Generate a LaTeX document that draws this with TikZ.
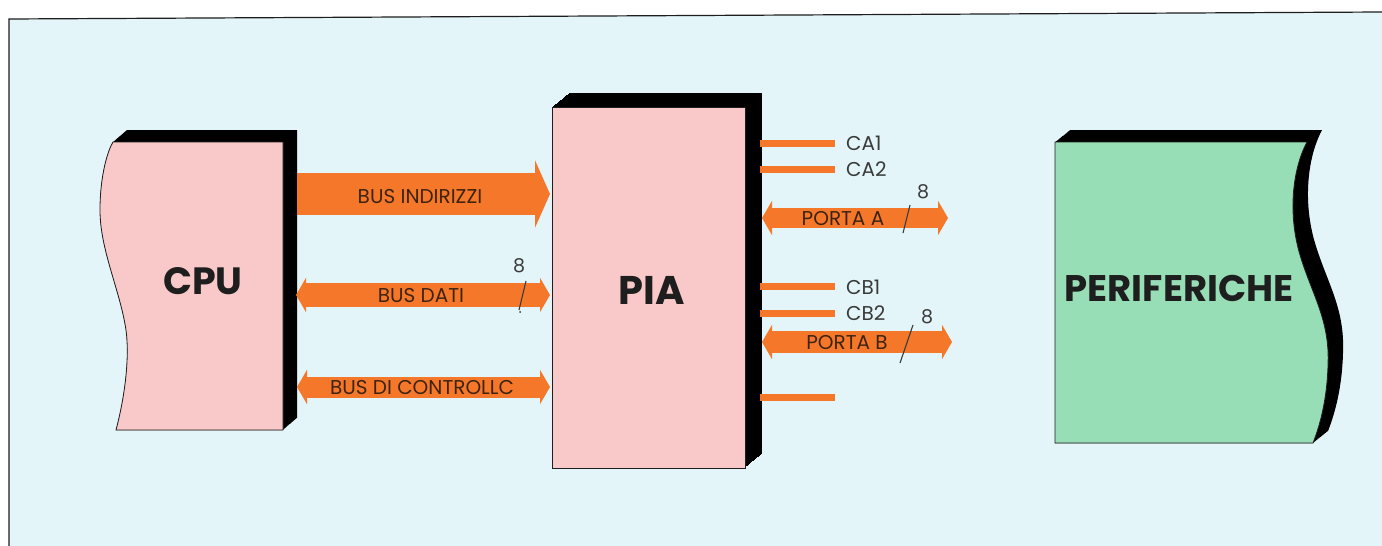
\documentclass[tikz,border=0pt]{standalone}
\usepackage{fontspec}
\setmainfont{Poppins}
\usetikzlibrary{arrows.meta}
\definecolor{bgc}{HTML}{E3F5F8}
\definecolor{pinkc}{HTML}{F9C8C8}
\definecolor{greenc}{HTML}{97DDB6}
\definecolor{orng}{HTML}{F5782A}
\definecolor{brownc}{HTML}{3E2410}
\definecolor{darkc}{HTML}{1E1E1E}
\definecolor{greyc}{HTML}{3A3A3A}
\tikzset{
  boxfill/.style={draw=darkc, line width=0.8pt},
  bigtext/.style={font=\fontsize{38}{38}\selectfont\bfseries, text=darkc, inner sep=0pt},
  buslabel/.style={font=\fontsize{20}{20}\selectfont, text=brownc, inner sep=0pt},
  pinlabel/.style={font=\fontsize{20}{20}\selectfont, text=greyc, inner sep=0pt, anchor=west},
  numlabel/.style={font=\fontsize{19}{19}\selectfont, text=greyc, inner sep=0pt},
  bigbus/.style={draw=orng, line width=42pt, line cap=butt, -{Triangle[length=15pt,width=67pt]}},
  dbus/.style={draw=orng, line width=#1, line cap=butt, {Triangle[length=10pt,width=34pt]}-{Triangle[length=10pt,width=34pt]}},
  pinline/.style={draw=orng, line width=7pt, line cap=butt},
  slash/.style={draw=greyc, line width=1.1pt},
}
\newcommand{\cpushape}{(113,142) -- (283,142) -- (283,430) -- (116,430) .. controls (124,400) and (130,360) .. (126,330) .. controls (120,290) and (100,250) .. (100,210) .. controls (100,175) and (108,150) .. (113,142) -- cycle}
\newcommand{\piashape}{(552,107) rectangle (745,468)}
\newcommand{\pershape}{(1055,142) -- (1307,142) .. controls (1292,170) and (1288,215) .. (1300,255) .. controls (1312,295) and (1330,320) .. (1328,365) .. controls (1327,400) and (1320,425) .. (1313,443) -- (1055,443) -- cycle}
\begin{document}
\begin{tikzpicture}[x=1pt,y=-1pt]
\useasboundingbox (0,0) rectangle (1382,546);
\fill[white] (0,0) rectangle (1382,546);
% background panel
\fill[bgc] (9,19) -- (1382,12) -- (1382,546) -- (9,546) -- cycle;
\draw[darkc, line width=1.2pt] (9,546) -- (9,19) -- (1382,12);

% CPU box with extruded shadow
\foreach \t in {0,0.04,...,1.0}{
  \fill[black, shift={(14*\t,-12*\t)}] \cpushape;
}
\filldraw[fill=pinkc, boxfill] \cpushape;
\node[bigtext] (cpu) at (203,281) {CPU};

% PIA box
\foreach \t in {0,0.04,...,1.0}{
  \fill[black, shift={(17*\t,-14*\t)}] \piashape;
}
\filldraw[fill=pinkc, boxfill] \piashape;
\node[bigtext, font=\fontsize{40}{40}\selectfont\bfseries] (pia) at (652,290) {PIA};

% PERIFERICHE box
\foreach \t in {0,0.04,...,1.0}{
  \fill[black, shift={(15*\t,-12*\t)}] \pershape;
}
\filldraw[fill=greenc, boxfill] \pershape;
\node[bigtext, font=\fontsize{37}{37}\selectfont\bfseries] (per) at (1179,288) {PERIFERICHE};

% connector end points
\coordinate (biS) at (297,194);  \coordinate (biE) at (550,194);
\coordinate (bdS) at (296,295);  \coordinate (bdE) at (550,295);
\coordinate (bcS) at (297,387);  \coordinate (bcE) at (550,387);
\coordinate (paS) at (762,218);  \coordinate (paE) at (948,218);
\coordinate (pbS) at (762,342);  \coordinate (pbE) at (952,342);
\coordinate (ca1S) at (760,143); \coordinate (ca1E) at (835,143);
\coordinate (ca2S) at (760,169); \coordinate (ca2E) at (835,169);
\coordinate (cb1S) at (760,286); \coordinate (cb1E) at (835,286);
\coordinate (cb2S) at (760,313); \coordinate (cb2E) at (835,313);
\coordinate (xS) at (760,397);   \coordinate (xE) at (835,397);

% CPU <-> PIA buses
\draw[bigbus] (biS) -- (biE);
\node[buslabel] (lbi) at (420,197) {BUS INDIRIZZI};
\draw[dbus=24pt] (bdS) -- (bdE);
\node[buslabel] (lbd) at (421,296) {BUS DATI};
\draw[dbus=21pt] (bcS) -- (bcE);
\node[buslabel] (lbc) at (422,388) {BUS DI CONTROLLC};

\coordinate (sd1) at (526,281); \coordinate (sd2) at (519,310);
\draw[slash] (sd1) -- (sd2);
\fill[greyc] (520,312) circle (1pt);
\node[numlabel] (nd) at (519,266) {8};

% PIA <-> peripheral lines
\draw[pinline] (ca1S) -- (ca1E);
\draw[pinline] (ca2S) -- (ca2E);
\draw[pinline] (cb1S) -- (cb1E);
\draw[pinline] (cb2S) -- (cb2E);
\draw[pinline] (xS) -- (xE);
\node[pinlabel] (lca1) at (846,143) {CA1};
\node[pinlabel] (lca2) at (846,169) {CA2};
\node[pinlabel] (lcb1) at (846,287) {CB1};
\node[pinlabel] (lcb2) at (846,313) {CB2};

\draw[dbus=20pt] (paS) -- (paE);
\node[buslabel] (lpa) at (843,219) {PORTA A};
\coordinate (sa1) at (910,205); \coordinate (sa2) at (903,233);
\draw[slash] (sa1) -- (sa2);
\node[numlabel] (na) at (923,192) {8};

\draw[dbus=22pt] (pbS) -- (pbE);
\node[buslabel] (lpb) at (847,343) {PORTA B};
\coordinate (sb1) at (913,325); \coordinate (sb2) at (900,363);
\draw[slash] (sb1) -- (sb2);
\node[numlabel] (nb) at (927,317) {8};
\end{tikzpicture}
\end{document}
